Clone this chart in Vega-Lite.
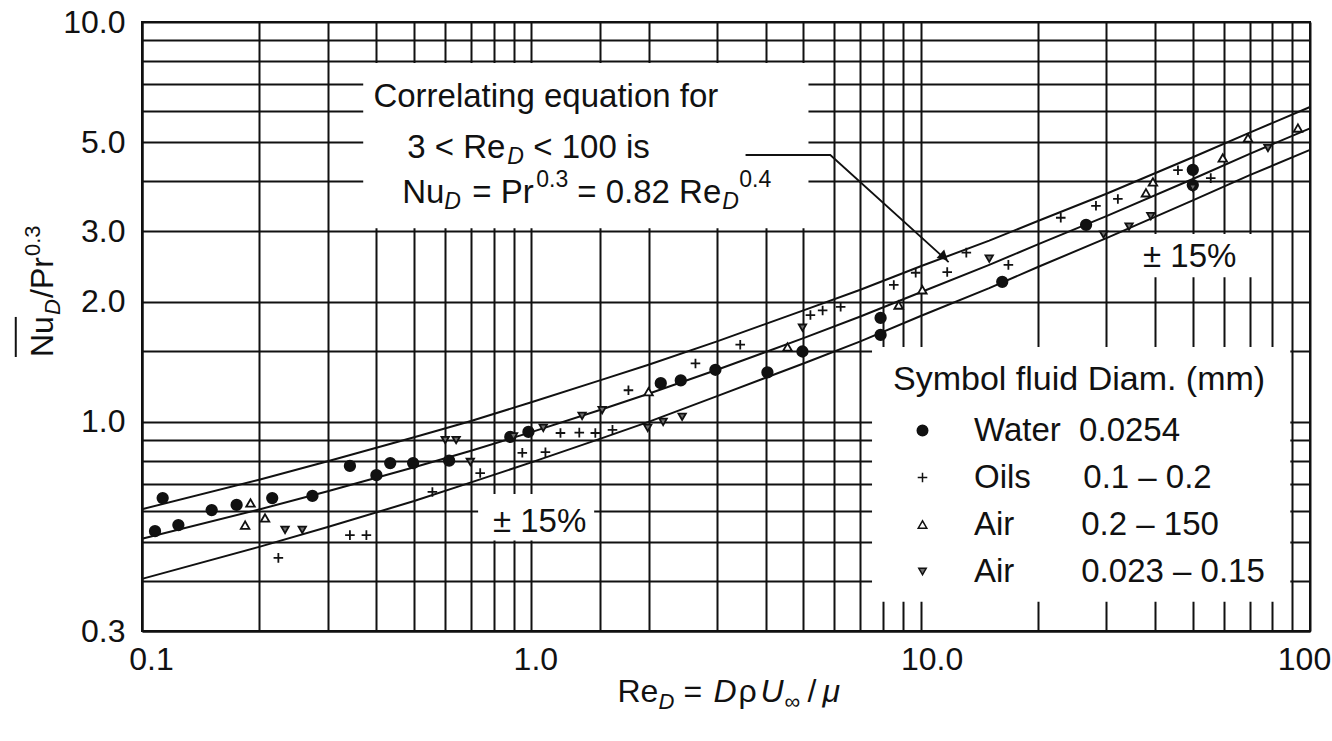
{
  "$schema": "https://vega.github.io/schema/vega-lite/v6.json",
  "width": 1168,
  "height": 609,
  "autosize": "none",
  "padding": {"left": 142, "top": 22, "right": 22, "bottom": 110},
  "background": "white",
  "config": {
    "view": {"stroke": "#111", "strokeWidth": 2},
    "font": "Liberation Sans"
  },
  "datasets": {
    "one": [{"k": 1}],
    "boxes": [
      {"x1": 0.37, "x2": 5.15, "y1": 3.05, "y2": 7.9},
      {"x1": 36.8, "x2": 74.8, "y1": 2.3, "y2": 2.95},
      {"x1": 0.73, "x2": 1.45, "y1": 0.505, "y2": 0.66},
      {"x1": 7.5, "x2": 89, "y1": 0.355, "y2": 1.54}
    ],
    "curves": [
      {"band": "center", "Re": 0.1, "Nu": 0.51},
      {"band": "center", "Re": 0.2, "Nu": 0.604},
      {"band": "center", "Re": 0.3, "Nu": 0.671},
      {"band": "center", "Re": 0.5, "Nu": 0.77},
      {"band": "center", "Re": 0.7, "Nu": 0.847},
      {"band": "center", "Re": 1, "Nu": 0.943},
      {"band": "center", "Re": 1.5, "Nu": 1.071},
      {"band": "center", "Re": 2, "Nu": 1.176},
      {"band": "center", "Re": 3, "Nu": 1.35},
      {"band": "center", "Re": 5, "Nu": 1.62},
      {"band": "center", "Re": 7, "Nu": 1.835},
      {"band": "center", "Re": 10, "Nu": 2.11},
      {"band": "center", "Re": 15, "Nu": 2.47},
      {"band": "center", "Re": 20, "Nu": 2.78},
      {"band": "center", "Re": 30, "Nu": 3.27},
      {"band": "center", "Re": 50, "Nu": 4.05},
      {"band": "center", "Re": 70, "Nu": 4.68},
      {"band": "center", "Re": 100, "Nu": 5.42},
      {"band": "upper", "Re": 0.1, "Nu": 0.605},
      {"band": "upper", "Re": 0.2, "Nu": 0.717},
      {"band": "upper", "Re": 0.3, "Nu": 0.797},
      {"band": "upper", "Re": 0.5, "Nu": 0.915},
      {"band": "upper", "Re": 0.7, "Nu": 1.005},
      {"band": "upper", "Re": 1, "Nu": 1.12},
      {"band": "upper", "Re": 1.5, "Nu": 1.27},
      {"band": "upper", "Re": 2, "Nu": 1.39},
      {"band": "upper", "Re": 3, "Nu": 1.59},
      {"band": "upper", "Re": 5, "Nu": 1.9},
      {"band": "upper", "Re": 7, "Nu": 2.14},
      {"band": "upper", "Re": 10, "Nu": 2.45},
      {"band": "upper", "Re": 15, "Nu": 2.84},
      {"band": "upper", "Re": 20, "Nu": 3.18},
      {"band": "upper", "Re": 30, "Nu": 3.72},
      {"band": "upper", "Re": 50, "Nu": 4.59},
      {"band": "upper", "Re": 70, "Nu": 5.29},
      {"band": "upper", "Re": 100, "Nu": 6.13},
      {"band": "lower", "Re": 0.1, "Nu": 0.405},
      {"band": "lower", "Re": 0.2, "Nu": 0.487},
      {"band": "lower", "Re": 0.3, "Nu": 0.546},
      {"band": "lower", "Re": 0.5, "Nu": 0.634},
      {"band": "lower", "Re": 0.7, "Nu": 0.706},
      {"band": "lower", "Re": 1, "Nu": 0.792},
      {"band": "lower", "Re": 1.5, "Nu": 0.907},
      {"band": "lower", "Re": 2, "Nu": 1.0},
      {"band": "lower", "Re": 3, "Nu": 1.16},
      {"band": "lower", "Re": 5, "Nu": 1.4},
      {"band": "lower", "Re": 7, "Nu": 1.59},
      {"band": "lower", "Re": 10, "Nu": 1.84},
      {"band": "lower", "Re": 15, "Nu": 2.16},
      {"band": "lower", "Re": 20, "Nu": 2.44},
      {"band": "lower", "Re": 30, "Nu": 2.88},
      {"band": "lower", "Re": 50, "Nu": 3.58},
      {"band": "lower", "Re": 70, "Nu": 4.14},
      {"band": "lower", "Re": 100, "Nu": 4.79}
    ],
    "arrow": [
      {"k": 1, "Re": 3.55, "Nu": 4.65},
      {"k": 2, "Re": 5.86, "Nu": 4.65},
      {"k": 3, "Re": 11.8, "Nu": 2.51}
    ],
    "points": [
      {"s": "Water", "Re": 0.108, "Nu": 0.533},
      {"s": "Water", "Re": 0.113, "Nu": 0.645},
      {"s": "Water", "Re": 0.124, "Nu": 0.552},
      {"s": "Water", "Re": 0.151, "Nu": 0.602},
      {"s": "Water", "Re": 0.175, "Nu": 0.62},
      {"s": "Water", "Re": 0.216, "Nu": 0.645},
      {"s": "Water", "Re": 0.274, "Nu": 0.653},
      {"s": "Water", "Re": 0.342, "Nu": 0.776},
      {"s": "Water", "Re": 0.4, "Nu": 0.736},
      {"s": "Water", "Re": 0.434, "Nu": 0.789},
      {"s": "Water", "Re": 0.497, "Nu": 0.789},
      {"s": "Water", "Re": 0.615, "Nu": 0.8},
      {"s": "Water", "Re": 0.883, "Nu": 0.917},
      {"s": "Water", "Re": 0.983, "Nu": 0.944},
      {"s": "Water", "Re": 2.15, "Nu": 1.25},
      {"s": "Water", "Re": 2.42, "Nu": 1.27},
      {"s": "Water", "Re": 2.97, "Nu": 1.35},
      {"s": "Water", "Re": 4.04, "Nu": 1.33},
      {"s": "Water", "Re": 4.97, "Nu": 1.5},
      {"s": "Water", "Re": 7.89, "Nu": 1.82},
      {"s": "Water", "Re": 7.89, "Nu": 1.65},
      {"s": "Water", "Re": 16.2, "Nu": 2.24},
      {"s": "Water", "Re": 26.6, "Nu": 3.11},
      {"s": "Water", "Re": 50, "Nu": 4.27},
      {"s": "Water", "Re": 50, "Nu": 3.91},
      {"s": "Oils", "Re": 0.224, "Nu": 0.457},
      {"s": "Oils", "Re": 0.342, "Nu": 0.521},
      {"s": "Oils", "Re": 0.377, "Nu": 0.521},
      {"s": "Oils", "Re": 0.557, "Nu": 0.668},
      {"s": "Oils", "Re": 0.739, "Nu": 0.745},
      {"s": "Oils", "Re": 0.948, "Nu": 0.837},
      {"s": "Oils", "Re": 1.087, "Nu": 0.84},
      {"s": "Oils", "Re": 1.188, "Nu": 0.938},
      {"s": "Oils", "Re": 1.328, "Nu": 0.94},
      {"s": "Oils", "Re": 1.46, "Nu": 0.938},
      {"s": "Oils", "Re": 1.616, "Nu": 0.955},
      {"s": "Oils", "Re": 1.776, "Nu": 1.2},
      {"s": "Oils", "Re": 2.64, "Nu": 1.4},
      {"s": "Oils", "Re": 3.44, "Nu": 1.56},
      {"s": "Oils", "Re": 5.21, "Nu": 1.85},
      {"s": "Oils", "Re": 5.6, "Nu": 1.9},
      {"s": "Oils", "Re": 6.23, "Nu": 1.94},
      {"s": "Oils", "Re": 8.53, "Nu": 2.2},
      {"s": "Oils", "Re": 9.71, "Nu": 2.36},
      {"s": "Oils", "Re": 11.7, "Nu": 2.37},
      {"s": "Oils", "Re": 13.1, "Nu": 2.65},
      {"s": "Oils", "Re": 16.8, "Nu": 2.47},
      {"s": "Oils", "Re": 22.9, "Nu": 3.24},
      {"s": "Oils", "Re": 28.2, "Nu": 3.47},
      {"s": "Oils", "Re": 32.1, "Nu": 3.61},
      {"s": "Oils", "Re": 45.8, "Nu": 4.26},
      {"s": "Oils", "Re": 55.6, "Nu": 4.07},
      {"s": "Air1", "Re": 0.184, "Nu": 0.552},
      {"s": "Air1", "Re": 0.19, "Nu": 0.627},
      {"s": "Air1", "Re": 0.207, "Nu": 0.575},
      {"s": "Air1", "Re": 2.0, "Nu": 1.19},
      {"s": "Air1", "Re": 4.55, "Nu": 1.54},
      {"s": "Air1", "Re": 8.78, "Nu": 1.96},
      {"s": "Air1", "Re": 10.1, "Nu": 2.14},
      {"s": "Air1", "Re": 37.9, "Nu": 3.74},
      {"s": "Air1", "Re": 39.5, "Nu": 3.98},
      {"s": "Air1", "Re": 59.7, "Nu": 4.57},
      {"s": "Air1", "Re": 69.3, "Nu": 5.13},
      {"s": "Air1", "Re": 93.1, "Nu": 5.43},
      {"s": "Air2", "Re": 0.233, "Nu": 0.537},
      {"s": "Air2", "Re": 0.258, "Nu": 0.537},
      {"s": "Air2", "Re": 0.601, "Nu": 0.901},
      {"s": "Air2", "Re": 0.641, "Nu": 0.901},
      {"s": "Air2", "Re": 0.697, "Nu": 0.794},
      {"s": "Air2", "Re": 0.9, "Nu": 0.92},
      {"s": "Air2", "Re": 1.073, "Nu": 0.966},
      {"s": "Air2", "Re": 1.35, "Nu": 1.035},
      {"s": "Air2", "Re": 1.52, "Nu": 1.07},
      {"s": "Air2", "Re": 1.99, "Nu": 0.966},
      {"s": "Air2", "Re": 2.18, "Nu": 1.0},
      {"s": "Air2", "Re": 2.44, "Nu": 1.03},
      {"s": "Air2", "Re": 4.97, "Nu": 1.72},
      {"s": "Air2", "Re": 15.0, "Nu": 2.56},
      {"s": "Air2", "Re": 29.5, "Nu": 2.94},
      {"s": "Air2", "Re": 34.3, "Nu": 3.08},
      {"s": "Air2", "Re": 39.0, "Nu": 3.27},
      {"s": "Air2", "Re": 50, "Nu": 3.85},
      {"s": "Air2", "Re": 78, "Nu": 4.84}
    ]
  },
  "layer": [
    {
      "data": {"name": "curves"},
      "mark": {"type": "line", "color": "#111", "strokeWidth": 2, "opacity": 0},
      "encoding": {
        "x": {"field": "Re", "type": "quantitative", "scale": {"type": "log", "domain": [0.1, 100]},
          "axis": {"title": null, "values": [0.1, 0.2, 0.3, 0.4, 0.5, 0.6, 0.7, 0.8, 0.9, 1, 1.5, 2, 3, 4, 5, 6, 7, 8, 9, 10, 20, 30, 40, 50, 60, 70, 80, 90, 100],
            "grid": true, "gridColor": "#111", "gridWidth": 2, "gridOpacity": 1, "ticks": false,
            "domainColor": "#111", "domainWidth": 2,
            "labelExpr": "datum.value == 0.1 ? '0.1' : datum.value == 1 ? '1.0' : datum.value == 10 ? '10.0' : datum.value == 100 ? '100' : ''",
            "labelOffset": {"condition": [{"test": "datum.value == 0.1", "value": 9}, {"test": "datum.value == 1", "value": 4}, {"test": "datum.value == 10", "value": 11}, {"test": "datum.value == 100", "value": -6}], "value": 0},
            "labelFont": "Liberation Sans", "labelFontSize": 32, "labelColor": "#111", "labelPadding": 13,
            "labelFlush": false, "labelOverlap": false, "labelBound": false}},
        "y": {"field": "Nu", "type": "quantitative", "scale": {"type": "log", "domain": [0.3, 10]},
          "axis": {"title": null, "values": [0.3, 0.4, 0.5, 0.6, 0.7, 0.8, 0.9, 1, 1.5, 2, 3, 4, 5, 6, 7, 8, 9, 10],
            "grid": true, "gridColor": "#111", "gridWidth": 2, "gridOpacity": 1, "ticks": false,
            "domainColor": "#111", "domainWidth": 2,
            "labelExpr": "datum.value == 0.3 ? '0.3' : datum.value == 1 ? '1.0' : datum.value == 2 ? '2.0' : datum.value == 3 ? '3.0' : datum.value == 5 ? '5.0' : datum.value == 10 ? '10.0' : ''",
            "labelFont": "Liberation Sans", "labelFontSize": 32, "labelColor": "#111", "labelPadding": 17,
            "labelFlush": false, "labelOverlap": false, "labelBound": false}},
        "detail": {"field": "band"}
      }
    },
    {
      "data": {"name": "boxes"},
      "mark": {"type": "rect", "fill": "white", "strokeWidth": 0},
      "encoding": {
        "x": {"field": "x1", "type": "quantitative", "scale": {"type": "log", "domain": [0.1, 100]}},
        "x2": {"field": "x2"},
        "y": {"field": "y1", "type": "quantitative", "scale": {"type": "log", "domain": [0.3, 10]}},
        "y2": {"field": "y2"}
      }
    },
    {
      "data": {"name": "curves"},
      "mark": {"type": "line", "color": "#111", "strokeWidth": 2},
      "encoding": {
        "x": {"field": "Re", "type": "quantitative", "scale": {"type": "log", "domain": [0.1, 100]}},
        "y": {"field": "Nu", "type": "quantitative", "scale": {"type": "log", "domain": [0.3, 10]}},
        "detail": {"field": "band"}
      }
    },
    {
      "data": {"name": "arrow"},
      "mark": {"type": "line", "color": "#111", "strokeWidth": 1.8},
      "encoding": {
        "x": {"field": "Re", "type": "quantitative", "scale": {"type": "log", "domain": [0.1, 100]}},
        "y": {"field": "Nu", "type": "quantitative", "scale": {"type": "log", "domain": [0.3, 10]}},
        "order": {"field": "k"}
      }
    },
    {
      "data": {"name": "one"},
      "mark": {"type": "point", "shape": "triangle", "angle": 132, "filled": true, "color": "#111", "size": 130, "opacity": 1},
      "encoding": {
        "x": {"datum": 11.4, "type": "quantitative", "scale": {"type": "log", "domain": [0.1, 100]}},
        "y": {"datum": 2.6, "type": "quantitative", "scale": {"type": "log", "domain": [0.3, 10]}}
      }
    },
    {
      "data": {"name": "points"},
      "mark": {"type": "point", "filled": true, "stroke": "#111", "strokeWidth": 1.8, "opacity": 1},
      "encoding": {
        "x": {"field": "Re", "type": "quantitative", "scale": {"type": "log", "domain": [0.1, 100]}},
        "y": {"field": "Nu", "type": "quantitative", "scale": {"type": "log", "domain": [0.3, 10]}},
        "shape": {"field": "s", "type": "nominal",
          "scale": {"domain": ["Water", "Oils", "Air1", "Air2"], "range": ["circle", "M-1,0L1,0M0,-1L0,1", "triangle-up", "triangle-down"]},
          "legend": {"title": "Symbol fluid Diam. (mm)", "orient": "none", "legendX": 751, "legendY": 341, "padding": 0,
            "titleFont": "Liberation Sans", "titleFontSize": 34, "titleFontWeight": "normal", "titleColor": "#111", "titlePadding": 17, "titleLimit": 800,
            "labelFont": "Liberation Sans", "labelFontSize": 33, "labelColor": "#111", "labelLimit": 600,
            "rowPadding": 13, "symbolOffset": 13, "labelOffset": 35,
            "encode": {"symbols": {"update": {"stroke": {"value": "#111"}, "strokeWidth": {"value": 1.8}}}},
            "labelExpr": "datum.label == 'Water' ? 'Water\u00a0\u00a00.0254' : datum.label == 'Oils' ? 'Oils\u00a0\u00a0\u00a0\u00a0\u00a0\u20090.1 – 0.2' : datum.label == 'Air1' ? 'Air\u00a0\u00a0\u00a0\u00a0\u00a0\u00a0\u00a0\u200a0.2 – 150' : 'Air\u00a0\u00a0\u00a0\u00a0\u00a0\u00a0\u00a0\u200a0.023 – 0.15'"}},
        "fill": {"field": "s", "type": "nominal",
          "scale": {"domain": ["Water", "Oils", "Air1", "Air2"], "range": ["#111111", "#111111", "#ffffff", "#707070"]},
          "legend": {"title": "Symbol fluid Diam. (mm)", "orient": "none", "legendX": 751, "legendY": 341, "padding": 0,
            "titleFont": "Liberation Sans", "titleFontSize": 34, "titleFontWeight": "normal", "titleColor": "#111", "titlePadding": 17, "titleLimit": 800,
            "labelFont": "Liberation Sans", "labelFontSize": 33, "labelColor": "#111", "labelLimit": 600,
            "rowPadding": 13, "symbolOffset": 13, "labelOffset": 35,
            "encode": {"symbols": {"update": {"stroke": {"value": "#111"}, "strokeWidth": {"value": 1.8}}}},
            "labelExpr": "datum.label == 'Water' ? 'Water\u00a0\u00a00.0254' : datum.label == 'Oils' ? 'Oils\u00a0\u00a0\u00a0\u00a0\u00a0\u20090.1 – 0.2' : datum.label == 'Air1' ? 'Air\u00a0\u00a0\u00a0\u00a0\u00a0\u00a0\u00a0\u200a0.2 – 150' : 'Air\u00a0\u00a0\u00a0\u00a0\u00a0\u00a0\u00a0\u200a0.023 – 0.15'"}},
        "size": {"field": "s", "type": "nominal",
          "scale": {"domain": ["Water", "Oils", "Air1", "Air2"], "range": [110, 55, 220, 230]},
          "legend": {"title": "Symbol fluid Diam. (mm)", "orient": "none", "legendX": 751, "legendY": 341, "padding": 0,
            "titleFont": "Liberation Sans", "titleFontSize": 34, "titleFontWeight": "normal", "titleColor": "#111", "titlePadding": 17, "titleLimit": 800,
            "labelFont": "Liberation Sans", "labelFontSize": 33, "labelColor": "#111", "labelLimit": 600,
            "rowPadding": 13, "symbolOffset": 13, "labelOffset": 35,
            "encode": {"symbols": {"update": {"stroke": {"value": "#111"}, "strokeWidth": {"value": 1.8}}}},
            "labelExpr": "datum.label == 'Water' ? 'Water\u00a0\u00a00.0254' : datum.label == 'Oils' ? 'Oils\u00a0\u00a0\u00a0\u00a0\u00a0\u20090.1 – 0.2' : datum.label == 'Air1' ? 'Air\u00a0\u00a0\u00a0\u00a0\u00a0\u00a0\u00a0\u200a0.2 – 150' : 'Air\u00a0\u00a0\u00a0\u00a0\u00a0\u00a0\u00a0\u200a0.023 – 0.15'"}}
      }
    },
    {
      "data": {"name": "one"},
      "mark": {"type": "text", "text": "Correlating equation for", "font": "Liberation Sans", "fontSize": 33, "color": "#111", "align": "left", "baseline": "middle"},
      "encoding": {
        "x": {"datum": 0.393, "type": "quantitative", "scale": {"type": "log", "domain": [0.1, 100]}},
        "y": {"datum": 6.49, "type": "quantitative", "scale": {"type": "log", "domain": [0.3, 10]}}
      }
    },
    {
      "data": {"name": "one"},
      "mark": {"type": "text", "text": "3 < Re", "font": "Liberation Sans", "fontSize": 33, "color": "#111", "align": "left", "baseline": "middle"},
      "encoding": {
        "x": {"datum": 0.48, "type": "quantitative", "scale": {"type": "log", "domain": [0.1, 100]}},
        "y": {"datum": 4.84, "type": "quantitative", "scale": {"type": "log", "domain": [0.3, 10]}}
      }
    },
    {
      "data": {"name": "one"},
      "mark": {"type": "text", "text": "D", "font": "Liberation Sans", "fontStyle": "italic", "fontSize": 23, "color": "#111", "align": "left", "baseline": "middle", "dx": 100, "dy": 9},
      "encoding": {
        "x": {"datum": 0.48, "type": "quantitative", "scale": {"type": "log", "domain": [0.1, 100]}},
        "y": {"datum": 4.84, "type": "quantitative", "scale": {"type": "log", "domain": [0.3, 10]}}
      }
    },
    {
      "data": {"name": "one"},
      "mark": {"type": "text", "text": "< 100 is", "font": "Liberation Sans", "fontSize": 33, "color": "#111", "align": "left", "baseline": "middle", "dx": 126},
      "encoding": {
        "x": {"datum": 0.48, "type": "quantitative", "scale": {"type": "log", "domain": [0.1, 100]}},
        "y": {"datum": 4.84, "type": "quantitative", "scale": {"type": "log", "domain": [0.3, 10]}}
      }
    },
    {
      "data": {"name": "one"},
      "mark": {"type": "text", "text": "Nu", "font": "Liberation Sans", "fontSize": 33, "color": "#111", "align": "left", "baseline": "middle"},
      "encoding": {
        "x": {"datum": 0.466, "type": "quantitative", "scale": {"type": "log", "domain": [0.1, 100]}},
        "y": {"datum": 3.74, "type": "quantitative", "scale": {"type": "log", "domain": [0.3, 10]}}
      }
    },
    {
      "data": {"name": "one"},
      "mark": {"type": "text", "text": "D", "font": "Liberation Sans", "fontStyle": "italic", "fontSize": 23, "color": "#111", "align": "left", "baseline": "middle", "dx": 42, "dy": 9},
      "encoding": {
        "x": {"datum": 0.466, "type": "quantitative", "scale": {"type": "log", "domain": [0.1, 100]}},
        "y": {"datum": 3.74, "type": "quantitative", "scale": {"type": "log", "domain": [0.3, 10]}}
      }
    },
    {
      "data": {"name": "one"},
      "mark": {"type": "text", "text": "= Pr", "font": "Liberation Sans", "fontSize": 33, "color": "#111", "align": "left", "baseline": "middle", "dx": 70},
      "encoding": {
        "x": {"datum": 0.466, "type": "quantitative", "scale": {"type": "log", "domain": [0.1, 100]}},
        "y": {"datum": 3.74, "type": "quantitative", "scale": {"type": "log", "domain": [0.3, 10]}}
      }
    },
    {
      "data": {"name": "one"},
      "mark": {"type": "text", "text": "0.3", "font": "Liberation Sans", "fontSize": 23, "color": "#111", "align": "left", "baseline": "middle", "dx": 134, "dy": -13},
      "encoding": {
        "x": {"datum": 0.466, "type": "quantitative", "scale": {"type": "log", "domain": [0.1, 100]}},
        "y": {"datum": 3.74, "type": "quantitative", "scale": {"type": "log", "domain": [0.3, 10]}}
      }
    },
    {
      "data": {"name": "one"},
      "mark": {"type": "text", "text": "= 0.82 Re", "font": "Liberation Sans", "fontSize": 33, "color": "#111", "align": "left", "baseline": "middle", "dx": 175},
      "encoding": {
        "x": {"datum": 0.466, "type": "quantitative", "scale": {"type": "log", "domain": [0.1, 100]}},
        "y": {"datum": 3.74, "type": "quantitative", "scale": {"type": "log", "domain": [0.3, 10]}}
      }
    },
    {
      "data": {"name": "one"},
      "mark": {"type": "text", "text": "D", "font": "Liberation Sans", "fontStyle": "italic", "fontSize": 23, "color": "#111", "align": "left", "baseline": "middle", "dx": 320, "dy": 9},
      "encoding": {
        "x": {"datum": 0.466, "type": "quantitative", "scale": {"type": "log", "domain": [0.1, 100]}},
        "y": {"datum": 3.74, "type": "quantitative", "scale": {"type": "log", "domain": [0.3, 10]}}
      }
    },
    {
      "data": {"name": "one"},
      "mark": {"type": "text", "text": "0.4", "font": "Liberation Sans", "fontSize": 23, "color": "#111", "align": "left", "baseline": "middle", "dx": 337, "dy": -13},
      "encoding": {
        "x": {"datum": 0.466, "type": "quantitative", "scale": {"type": "log", "domain": [0.1, 100]}},
        "y": {"datum": 3.74, "type": "quantitative", "scale": {"type": "log", "domain": [0.3, 10]}}
      }
    },
    {
      "data": {"name": "one"},
      "mark": {"type": "text", "text": "± 15%", "font": "Liberation Sans", "fontSize": 33, "color": "#111", "align": "center", "baseline": "middle"},
      "encoding": {
        "x": {"datum": 49.1, "type": "quantitative", "scale": {"type": "log", "domain": [0.1, 100]}},
        "y": {"datum": 2.58, "type": "quantitative", "scale": {"type": "log", "domain": [0.3, 10]}}
      }
    },
    {
      "data": {"name": "one"},
      "mark": {"type": "text", "text": "± 15%", "font": "Liberation Sans", "fontSize": 33, "color": "#111", "align": "center", "baseline": "middle"},
      "encoding": {
        "x": {"datum": 1.05, "type": "quantitative", "scale": {"type": "log", "domain": [0.1, 100]}},
        "y": {"datum": 0.562, "type": "quantitative", "scale": {"type": "log", "domain": [0.3, 10]}}
      }
    },
    {
      "data": {"name": "one"},
      "mark": {"type": "rule", "color": "#111", "strokeWidth": 2},
      "encoding": {
        "x": {"datum": 0.0474, "type": "quantitative", "scale": {"type": "log", "domain": [0.1, 100]}},
        "y": {"datum": 1.453, "type": "quantitative", "scale": {"type": "log", "domain": [0.3, 10]}},
        "y2": {"datum": 1.83}
      }
    },
    {
      "data": {"name": "one"},
      "mark": {"type": "text", "text": "Nu", "font": "Liberation Sans", "fontSize": 32, "color": "#111", "align": "left", "baseline": "alphabetic", "angle": 270},
      "encoding": {
        "x": {"datum": 0.059, "type": "quantitative", "scale": {"type": "log", "domain": [0.1, 100]}},
        "y": {"datum": 1.453, "type": "quantitative", "scale": {"type": "log", "domain": [0.3, 10]}}
      }
    },
    {
      "data": {"name": "one"},
      "mark": {"type": "text", "text": "D", "font": "Liberation Sans", "fontStyle": "italic", "fontSize": 22, "color": "#111", "align": "left", "baseline": "alphabetic", "angle": 270, "dx": 42, "dy": 7},
      "encoding": {
        "x": {"datum": 0.059, "type": "quantitative", "scale": {"type": "log", "domain": [0.1, 100]}},
        "y": {"datum": 1.453, "type": "quantitative", "scale": {"type": "log", "domain": [0.3, 10]}}
      }
    },
    {
      "data": {"name": "one"},
      "mark": {"type": "text", "text": "/Pr", "font": "Liberation Sans", "fontSize": 32, "color": "#111", "align": "left", "baseline": "alphabetic", "angle": 270, "dx": 59},
      "encoding": {
        "x": {"datum": 0.059, "type": "quantitative", "scale": {"type": "log", "domain": [0.1, 100]}},
        "y": {"datum": 1.453, "type": "quantitative", "scale": {"type": "log", "domain": [0.3, 10]}}
      }
    },
    {
      "data": {"name": "one"},
      "mark": {"type": "text", "text": "0.3", "font": "Liberation Sans", "fontSize": 22, "color": "#111", "align": "left", "baseline": "alphabetic", "angle": 270, "dx": 101, "dy": -13},
      "encoding": {
        "x": {"datum": 0.059, "type": "quantitative", "scale": {"type": "log", "domain": [0.1, 100]}},
        "y": {"datum": 1.453, "type": "quantitative", "scale": {"type": "log", "domain": [0.3, 10]}}
      }
    },
    {
      "data": {"name": "one"},
      "mark": {"type": "text", "text": "Re", "font": "Liberation Sans", "fontSize": 32, "color": "#111", "align": "left", "baseline": "alphabetic"},
      "encoding": {
        "x": {"datum": 1.664, "type": "quantitative", "scale": {"type": "log", "domain": [0.1, 100]}},
        "y": {"datum": 0.1996, "type": "quantitative", "scale": {"type": "log", "domain": [0.3, 10]}}
      }
    },
    {
      "data": {"name": "one"},
      "mark": {"type": "text", "text": "D", "font": "Liberation Sans", "fontStyle": "italic", "fontSize": 22, "color": "#111", "align": "left", "baseline": "alphabetic", "dx": 41, "dy": 7},
      "encoding": {
        "x": {"datum": 1.664, "type": "quantitative", "scale": {"type": "log", "domain": [0.1, 100]}},
        "y": {"datum": 0.1996, "type": "quantitative", "scale": {"type": "log", "domain": [0.3, 10]}}
      }
    },
    {
      "data": {"name": "one"},
      "mark": {"type": "text", "text": "=", "font": "Liberation Sans", "fontSize": 32, "color": "#111", "align": "left", "baseline": "alphabetic", "dx": 66},
      "encoding": {
        "x": {"datum": 1.664, "type": "quantitative", "scale": {"type": "log", "domain": [0.1, 100]}},
        "y": {"datum": 0.1996, "type": "quantitative", "scale": {"type": "log", "domain": [0.3, 10]}}
      }
    },
    {
      "data": {"name": "one"},
      "mark": {"type": "text", "text": "D", "font": "Liberation Sans", "fontStyle": "italic", "fontSize": 32, "color": "#111", "align": "left", "baseline": "alphabetic", "dx": 96},
      "encoding": {
        "x": {"datum": 1.664, "type": "quantitative", "scale": {"type": "log", "domain": [0.1, 100]}},
        "y": {"datum": 0.1996, "type": "quantitative", "scale": {"type": "log", "domain": [0.3, 10]}}
      }
    },
    {
      "data": {"name": "one"},
      "mark": {"type": "text", "text": "ρ", "font": "Liberation Sans", "fontSize": 32, "color": "#111", "align": "left", "baseline": "alphabetic", "dx": 121},
      "encoding": {
        "x": {"datum": 1.664, "type": "quantitative", "scale": {"type": "log", "domain": [0.1, 100]}},
        "y": {"datum": 0.1996, "type": "quantitative", "scale": {"type": "log", "domain": [0.3, 10]}}
      }
    },
    {
      "data": {"name": "one"},
      "mark": {"type": "text", "text": "U", "font": "Liberation Sans", "fontStyle": "italic", "fontSize": 32, "color": "#111", "align": "left", "baseline": "alphabetic", "dx": 143},
      "encoding": {
        "x": {"datum": 1.664, "type": "quantitative", "scale": {"type": "log", "domain": [0.1, 100]}},
        "y": {"datum": 0.1996, "type": "quantitative", "scale": {"type": "log", "domain": [0.3, 10]}}
      }
    },
    {
      "data": {"name": "one"},
      "mark": {"type": "text", "text": "∞", "font": "Liberation Sans", "fontSize": 22, "color": "#111", "align": "left", "baseline": "alphabetic", "dx": 167, "dy": 7},
      "encoding": {
        "x": {"datum": 1.664, "type": "quantitative", "scale": {"type": "log", "domain": [0.1, 100]}},
        "y": {"datum": 0.1996, "type": "quantitative", "scale": {"type": "log", "domain": [0.3, 10]}}
      }
    },
    {
      "data": {"name": "one"},
      "mark": {"type": "text", "text": "/", "font": "Liberation Sans", "fontSize": 32, "color": "#111", "align": "left", "baseline": "alphabetic", "dx": 190},
      "encoding": {
        "x": {"datum": 1.664, "type": "quantitative", "scale": {"type": "log", "domain": [0.1, 100]}},
        "y": {"datum": 0.1996, "type": "quantitative", "scale": {"type": "log", "domain": [0.3, 10]}}
      }
    },
    {
      "data": {"name": "one"},
      "mark": {"type": "text", "text": "μ", "font": "Liberation Sans", "fontStyle": "italic", "fontSize": 32, "color": "#111", "align": "left", "baseline": "alphabetic", "dx": 205},
      "encoding": {
        "x": {"datum": 1.664, "type": "quantitative", "scale": {"type": "log", "domain": [0.1, 100]}},
        "y": {"datum": 0.1996, "type": "quantitative", "scale": {"type": "log", "domain": [0.3, 10]}}
      }
    }
  ]
}
